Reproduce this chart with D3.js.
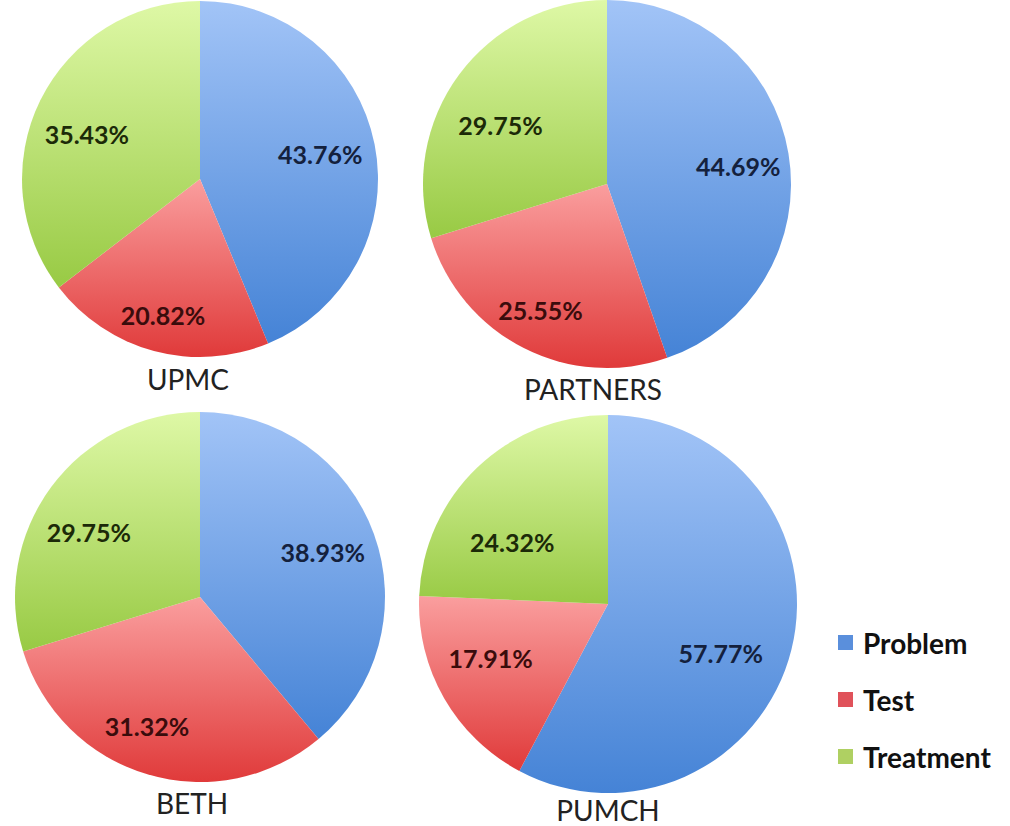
<!DOCTYPE html>
<html>
<head>
<meta charset="utf-8">
<script src="https://cdn.jsdelivr.net/npm/d3@7"></script>
<style>
  html, body { margin: 0; padding: 0; background: #fff; }
  svg { display: block; }
</style>
</head>
<body>
<svg id="chart" width="1010" height="826"></svg>
<script>
// ---- data ----
const categories = ["Problem", "Test", "Treatment"];
const sites = ["UPMC", "PARTNERS", "BETH", "PUMCH"];
const upmcValues = [43.76, 20.82, 35.43];
const partnersValues = [44.69, 25.55, 29.75];
const bethValues = [38.93, 31.32, 29.75];
const pumchValues = [57.77, 17.91, 24.32];
const valueLabels = [
  ["43.76%", "20.82%", "35.43%"],
  ["44.69%", "25.55%", "29.75%"],
  ["38.93%", "31.32%", "29.75%"],
  ["57.77%", "17.91%", "24.32%"]
];
const seriesValues = [upmcValues, partnersValues, bethValues, pumchValues];

// ---- layout / style ----
const layout = [
  { cx: 200, cy: 179, r: 178, titleDx: -12, titleDy: 22 },
  { cx: 607, cy: 184, r: 184, titleDx: -14, titleDy: 21 },
  { cx: 200, cy: 597, r: 185, titleDx: -8,  titleDy: 21 },
  { cx: 608, cy: 604, r: 189, titleDx: 0,   titleDy: 17 }
];
// small label nudges (Excel "best fit" placement)
const labelNudge = [
  [[-9, 1], [-3, 9], [5, 13]],
  [[-3, 5], [-5, 5], [3, 22]],
  [[-6, 2], [-14, -2], [-1, 16]],
  [[-23, 15], [4, -15], [1, 39]]
];
const gradStops = {
  Problem:   ["#a2c4f7", "#4583d6"],
  Test:      ["#fa9e9e", "#e03a3a"],
  Treatment: ["#def8a6", "#98ca44"]
};
const labelColors = { Problem: "#14213d", Test: "#3a0c0c", Treatment: "#1c2a08" };
const legendColors = { Problem: "#5a8fdc", Test: "#e0525a", Treatment: "#afd062" };
const FONT = "Lato, 'Open Sans', sans-serif";

const svg = d3.select("#chart");
const defs = svg.append("defs");
categories.forEach(c => {
  const g = defs.append("linearGradient")
    .attr("id", "grad-" + c).attr("x1", 0).attr("y1", 0).attr("x2", 0).attr("y2", 1);
  g.append("stop").attr("offset", "0%").attr("stop-color", gradStops[c][0]);
  g.append("stop").attr("offset", "100%").attr("stop-color", gradStops[c][1]);
});

const pie = d3.pie().sort(null).value(d => d.value).startAngle(0).endAngle(2 * Math.PI);
const color = d3.scaleOrdinal().domain(categories).range(categories.map(c => "url(#grad-" + c + ")"));

sites.forEach((site, i) => {
  const L = layout[i];
  const data = categories.map((c, j) => ({ cat: c, idx: j, value: seriesValues[i][j], label: valueLabels[i][j] }));
  const arcs = pie(data);
  const arc = d3.arc().innerRadius(0).outerRadius(L.r);
  const labelArc = d3.arc().innerRadius(L.r * 0.74).outerRadius(L.r * 0.74);
  const g = svg.append("g").attr("transform", `translate(${L.cx},${L.cy})`);
  g.selectAll("path.slice").data(arcs).join("path")
    .attr("class", "slice")
    .attr("d", arc)
    .attr("fill", d => color(d.data.cat));
  g.selectAll("text.val").data(arcs).join("text")
    .attr("class", "val")
    .attr("transform", d => {
      const [x, y] = labelArc.centroid(d);
      const n = labelNudge[i][d.data.idx];
      return `translate(${x + n[0]},${y + n[1]})`;
    })
    .attr("text-anchor", "middle")
    .attr("dominant-baseline", "central")
    .attr("font-family", FONT)
    .attr("font-weight", "bold")
    .attr("font-size", 25)
    .attr("fill", d => labelColors[d.data.cat])
    .text(d => d.data.label);
  svg.append("text")
    .attr("x", L.cx + L.titleDx).attr("y", L.cy + L.r + L.titleDy)
    .attr("text-anchor", "middle")
    .attr("dominant-baseline", "central")
    .attr("font-family", FONT)
    .attr("font-size", 28)
    .attr("fill", "#222")
    .text(site);
});

// ---- legend ----
const legendY = d3.scalePoint().domain(categories).range([643, 757]);
const legend = svg.append("g");
categories.forEach(c => {
  legend.append("rect")
    .attr("x", 838).attr("y", legendY(c) - 8).attr("width", 15).attr("height", 15)
    .attr("fill", legendColors[c]);
  legend.append("text")
    .attr("x", 863).attr("y", legendY(c))
    .attr("dominant-baseline", "central")
    .attr("font-family", FONT)
    .attr("font-weight", "bold")
    .attr("font-size", 28)
    .attr("fill", "#111")
    .text(c);
});
</script>
</body>
</html>
